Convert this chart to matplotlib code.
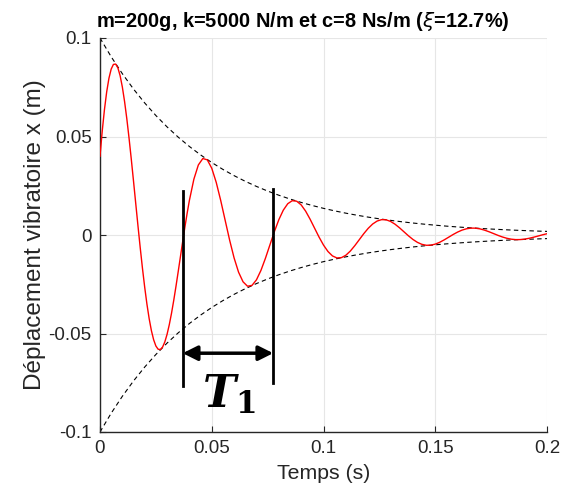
import numpy as np
import matplotlib
matplotlib.use("Agg")
import matplotlib.pyplot as plt

# réponse : pas de 0.001 s jusqu'à 0.04 s, puis 0.002 s
temps_debut = np.linspace(0, 0.04, 41)
deplacement_debut = [
    0.04000, 0.05276, 0.06373, 0.07271, 0.07956, 0.08421, 0.08659, 0.08677, 0.08483, 0.08088,
    0.07511, 0.06772, 0.05899, 0.04914, 0.03848, 0.02730, 0.01590, 0.00452, -0.00650, -0.01693,
    -0.02652, -0.03511, -0.04249, -0.04856, -0.05318, -0.05634, -0.05798, -0.05815, -0.05689, -0.05428,
    -0.05045, -0.04553, -0.03970, -0.03313, -0.02600, -0.01851, -0.01088, -0.00325, 0.00413, 0.01113,
    0.01759,
]
temps_suite = np.linspace(0.042, 0.2, 80)
deplacement_suite = [
    0.02833, 0.03555, 0.03882, 0.03815, 0.03389, 0.02672, 0.01756, 0.00744, -0.00262,
    -0.01166, -0.01889, -0.02376, -0.02600, -0.02558, -0.02276, -0.01799, -0.01187, -0.00509, 0.00166,
    0.00773, 0.01259, 0.01588, 0.01741, 0.01715, 0.01529, 0.01211, 0.00802, 0.00348, -0.00105,
    -0.00512, -0.00839, -0.01062, -0.01165, -0.01150, -0.01027, -0.00815, -0.00541, -0.00238, 0.00066,
    0.00339, 0.00559, 0.00709, 0.00780, 0.00771, 0.00689, 0.00548, 0.00366, 0.00162, -0.00041,
    -0.00225, -0.00373, -0.00474, -0.00522, -0.00517, -0.00463, -0.00369, -0.00247, -0.00111, 0.00026,
    0.00149, 0.00249, 0.00317, 0.00350, 0.00347, 0.00311, 0.00248, 0.00167, 0.00076, -0.00016,
    -0.00099, -0.00166, -0.00212, -0.00234, -0.00232, -0.00209, -0.00167, -0.00113, -0.00052, 0.00010,
    0.00065,
]

# enveloppe (pas de 0.005 s)
temps_env = np.linspace(0, 0.2, 41)
enveloppe = [
    0.1, 0.09048, 0.08187, 0.07408, 0.06703, 0.06065, 0.05488, 0.04966, 0.04493, 0.04066,
    0.03679, 0.03329, 0.03012, 0.02725, 0.02466, 0.02231, 0.02019, 0.01827, 0.01653, 0.01496,
    0.01353, 0.01225, 0.01108, 0.01003, 0.00907, 0.00821, 0.00743, 0.00672, 0.00608, 0.00550,
    0.00498, 0.00450, 0.00408, 0.00369, 0.00334, 0.00302, 0.00273, 0.00247, 0.00224, 0.00202,
    0.00183,
]

# repères de la période T1
t1_debut = 0.037
t1_fin = 0.0775

xticks = [0, 0.05, 0.1, 0.15, 0.2]
xticklabels = ["0", "0.05", "0.1", "0.15", "0.2"]
yticks = [-0.1, -0.05, 0, 0.05, 0.1]
yticklabels = ["-0.1", "-0.05", "0", "0.05", "0.1"]

plt.rcParams["font.family"] = ["Liberation Sans", "DejaVu Sans"]
gris = "#262626"

temps = np.concatenate([temps_debut, temps_suite])
deplacement = np.array(deplacement_debut + deplacement_suite)

fig = plt.figure(figsize=(5.64, 5.0), dpi=100)
ax = fig.add_axes([0.1773, 0.136, 0.7926, 0.788])

ax.plot(temps, deplacement, color="red", lw=1.0, zorder=3)
env = np.array(enveloppe)
ax.plot(temps_env, env, color="black", lw=0.8, ls=(0, (4, 3)), zorder=2)
ax.plot(temps_env, -env, color="black", lw=0.8, ls=(0, (4, 3)), zorder=2)

# annotation T1
ax.plot([t1_debut, t1_debut], [0.0223, -0.0767], color="black", lw=2, zorder=4)
ax.plot([t1_fin, t1_fin], [0.0234, -0.0752], color="black", lw=2, zorder=4)
ax.annotate("", xy=(t1_debut, -0.060), xytext=(t1_fin, -0.060),
            arrowprops=dict(arrowstyle="<|-|>", color="black", lw=2.5,
                            mutation_scale=22, shrinkA=0, shrinkB=0), zorder=5)
ax.text(0.0575, -0.081, r"$\mathbfit{T}_{\mathbf{1}}$", fontsize=32,
        math_fontfamily="dejavuserif", ha="center", va="center", zorder=5)

ax.set_xlim(0, 0.2)
ax.set_ylim(-0.1, 0.1)
ax.set_xticks(xticks)
ax.set_xticklabels(xticklabels)
ax.set_yticks(yticks)
ax.set_yticklabels(yticklabels)
ax.grid(True, color="#e6e6e6", lw=0.8)
ax.set_axisbelow(True)
ax.tick_params(direction="in", length=4, colors=gris, labelsize=13.5, pad=6)
for s in ["top", "right"]:
    ax.spines[s].set_visible(False)
for s in ["left", "bottom"]:
    ax.spines[s].set_color(gris)
    ax.spines[s].set_linewidth(1.0)

ax.set_xlabel("Temps (s)", fontsize=15.3, color=gris, labelpad=5)
ax.set_ylabel("Déplacement vibratoire x (m)", fontsize=17.5, color=gris, labelpad=2)
ax.set_title(r"m=200g, k=5000 N/m et c=8 Ns/m ($\xi$=12.7%)", fontsize=14.4,
             fontweight="bold", color="black", x=0.454, pad=8)

fig.savefig("out.png", dpi=100)
